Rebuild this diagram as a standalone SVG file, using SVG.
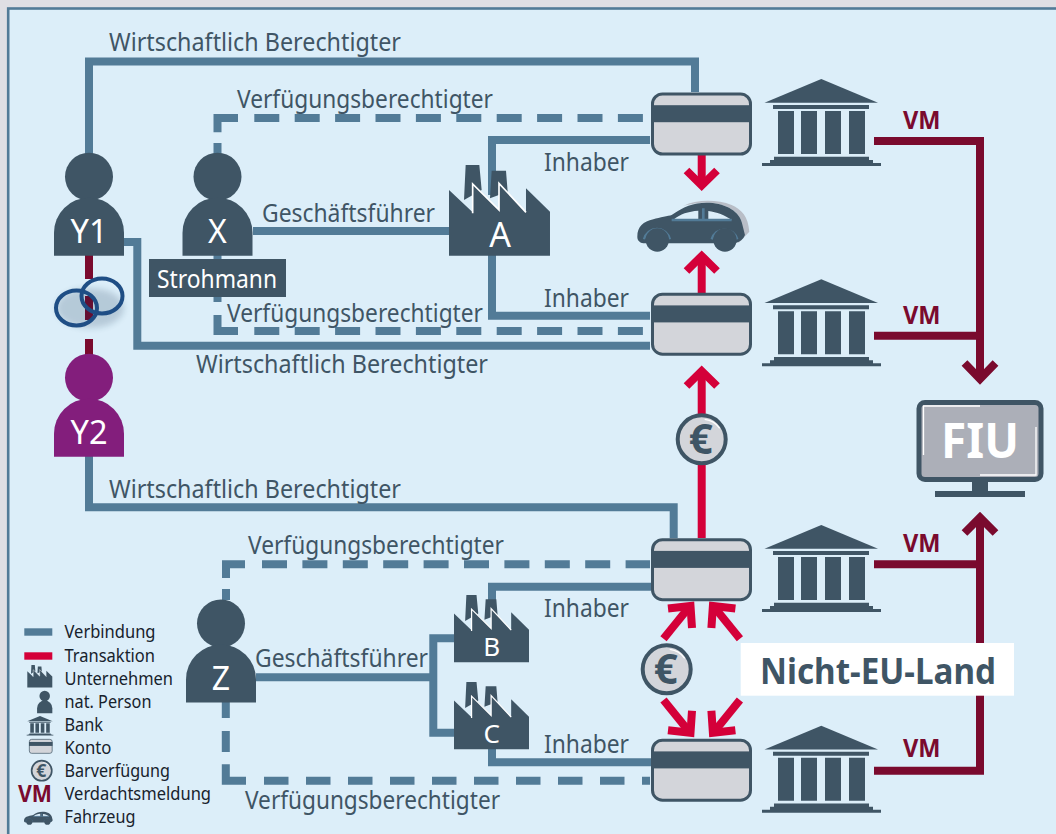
<svg xmlns="http://www.w3.org/2000/svg" xmlns:xlink="http://www.w3.org/1999/xlink" width="1056" height="834" viewBox="0 0 1056 834">
<style>
text{font-family:"Noto Sans","Liberation Sans",sans-serif}
.l{font-size:25px;fill:#3f5565}
.k{font-size:18px;fill:#17222c}
.w{fill:#fff;text-anchor:middle;font-size:32px}
.vm{font-size:25px;font-weight:700;fill:#7a0a2e}
.c{fill:none;stroke:#527b97;stroke-width:8}
.d{fill:none;stroke:#527b97;stroke-width:8;stroke-dasharray:25 15.4}
.t{fill:none;stroke:#d40039;stroke-width:8}
.v{fill:none;stroke:#7a0a2e;stroke-width:8}
.dk{fill:#3f5565}
</style>
<defs>
<filter id="blur" x="-50%" y="-50%" width="200%" height="200%"><feGaussianBlur stdDeviation="3"/></filter>
<g id="person"><circle cx="0" cy="0" r="24"/><path d="M-35 79V56A35 35 0 0 1 35 56V79Z"/></g>
<g id="factory">
<path class="dk" d="M50 0H91L98 75L45 105ZM128 17H171L176 80L123 100Z"/>
<path class="dk" d="M0 75L71 142V55L150 135V55L231 142V70L303 140V272H0Z"/>
<path d="M71 145V57L150 135V55L231 142" fill="none" stroke="#fff" stroke-width="5"/>
</g>
<g id="bank" class="dk">
<path d="M821.3 79L878 102.7H764.5Z"/>
<path d="M773 105H869V109H773Z"/>
<path d="M778 111H794V154H778ZM801 111H817V154H801ZM825 111H841V154H825ZM849 111H865V154H849Z"/>
<path d="M774 156.7H869V160H873V163H881V166H762V163H770V160H774Z"/>
</g>
<g id="card">
<rect x="1.5" y="1.5" width="98" height="60" rx="10" fill="#d3d5da" stroke="#3f5565" stroke-width="3"/>
<rect x="0" y="12.7" width="101" height="17" fill="#3f5565"/>
</g>
<g id="euro">
<circle cx="0" cy="0" r="24" fill="#d3d5da" stroke="#3f5565" stroke-width="4"/>
<path d="M3 -20A21 21 0 0 1 18 -11" fill="none" stroke="#fff" stroke-width="1.2"/>
<text x="-1" y="15" font-size="42" font-weight="700" fill="#3f5565" text-anchor="middle">€</text>
</g>
<g id="carbody">
<path class="dk" d="M622 470C622 440 640 425 670 418C690 412 715 408 725 405C760 380 790 368 830 368C880 368 925 390 935 425L945 465C940 478 930 485 915 490H640C630 488 622 482 622 470Z"/>
<path d="M732 418C750 402 775 394 805 392V418ZM835 393C860 396 885 406 905 420H835Z" fill="#dceef9"/>
<path d="M725 420H905M820 385V420" fill="none" stroke="#527b97" stroke-width="8"/>
<path d="M642 478A40 40 0 0 1 720 478M845 478A40 40 0 0 1 922 478" fill="#3f5565" stroke="#527b97" stroke-width="7"/>
<circle cx="682" cy="480" r="35" fill="#3f5565"/>
<circle cx="885" cy="480" r="35" fill="#3f5565"/>
</g>
</defs>

<rect id="page" width="1056" height="834" fill="#dfdfe4"/>
<rect id="panel" x="8.2" y="8.5" width="1100" height="900" fill="#dceef9" stroke="#527b97" stroke-width="2.6"/>

<g id="connectors">
<path class="c" d="M89 155V61.5H695V92"/>
<path class="c" d="M217.5 154V143M217.5 132.3V118H238"/>
<path class="d" d="M254.3 118H650"/>
<path class="c" d="M650 140H492V195"/>
<path class="c" d="M492 255V315.7H650"/>
<path class="c" d="M217.5 255V302M217.5 315V331H238"/>
<path class="d" d="M254.3 331H650"/>
<path class="c" d="M124 242H137.3V345.7H650"/>
<path class="c" d="M253 231H449"/>
<path class="v" d="M89 255V279M89 296V320M89 339V356"/>
<path class="c" d="M89 456V507.3H673.7V538"/>
<path class="c" d="M226 600V589M226 578V564.3H245"/>
<path class="d" d="M262 564.3H650"/>
<path class="c" d="M651 586.7H492V610"/>
<path class="c" d="M256 677.3H433.3M454 638.3H433.3V732.7H454"/>
<path class="c" d="M492 749V762.3H651"/>
<path class="c" d="M225.8 702V718M225.8 731V752M225.8 764.3V780.7H246"/>
<path class="d" d="M264 780.7H650" style="stroke-dasharray:24.5 17.5"/>
<path class="t" d="M701.7 155V185"/><path class="t" d="M686.5 170.5L701.7 185.5L717 170.5"/>
<path class="t" d="M701.7 293V256"/><path class="t" d="M686.5 271L701.7 256L717 271"/>
<path class="t" d="M701.7 538V371"/><path class="t" d="M686.5 386L701.7 371L717 386"/>
<path class="t" d="M663.5 638.7L690 606"/><path class="t" d="M668 608.5L690.5 606L692 628"/>
<path class="t" d="M739.9 638.7L713.4 606"/><path class="t" d="M735.4 608.5L712.9 606L711.4 628"/>
<path class="t" d="M663.5 700L690 732.7"/><path class="t" d="M668 730.2L690.5 732.7L692 710.7"/>
<path class="t" d="M739.9 700L713.4 732.7"/><path class="t" d="M735.4 730.2L712.9 732.7L711.4 710.7"/>
<path class="v" d="M874 141H980V379"/><path class="v" d="M874 335.7H980"/>
<path class="v" d="M964.5 363L980 379L995.5 363"/>
<path class="v" d="M874 564.3H980"/><path class="v" d="M874 770.7H980V517.5"/>
<path class="v" d="M964.5 533L980 517.5L995.5 533"/>
</g>

<g id="labels">
<text class="l" x="109" y="51" textLength="292" lengthAdjust="spacingAndGlyphs">Wirtschaftlich Berechtigter</text>
<text class="l" x="237" y="107.5" textLength="256" lengthAdjust="spacingAndGlyphs">Verfügungsberechtigter</text>
<text class="l" x="262" y="222" textLength="173" lengthAdjust="spacingAndGlyphs">Geschäftsführer</text>
<text class="l" x="544" y="170.7" textLength="85" lengthAdjust="spacingAndGlyphs">Inhaber</text>
<text class="l" x="544" y="306.7" textLength="85" lengthAdjust="spacingAndGlyphs">Inhaber</text>
<text class="l" x="227" y="322" textLength="256" lengthAdjust="spacingAndGlyphs">Verfügungsberechtigter</text>
<text class="l" x="196" y="373" textLength="292" lengthAdjust="spacingAndGlyphs">Wirtschaftlich Berechtigter</text>
<text class="l" x="109" y="497.5" textLength="292" lengthAdjust="spacingAndGlyphs">Wirtschaftlich Berechtigter</text>
<text class="l" x="248" y="553.5" textLength="256" lengthAdjust="spacingAndGlyphs">Verfügungsberechtigter</text>
<text class="l" x="544" y="616.5" textLength="85" lengthAdjust="spacingAndGlyphs">Inhaber</text>
<text class="l" x="255" y="666.5" textLength="173" lengthAdjust="spacingAndGlyphs">Geschäftsführer</text>
<text class="l" x="544" y="753" textLength="85" lengthAdjust="spacingAndGlyphs">Inhaber</text>
<text class="l" x="245" y="808.5" textLength="255" lengthAdjust="spacingAndGlyphs">Verfügungsberechtigter</text>
<text class="vm" x="903" y="129" textLength="37.5" lengthAdjust="spacingAndGlyphs">VM</text>
<text class="vm" x="903" y="324" textLength="37.5" lengthAdjust="spacingAndGlyphs">VM</text>
<text class="vm" x="903" y="551.7" textLength="37.5" lengthAdjust="spacingAndGlyphs">VM</text>
<text class="vm" x="903" y="757" textLength="37.5" lengthAdjust="spacingAndGlyphs">VM</text>
</g>

<g id="rings">
<ellipse cx="90" cy="308" rx="34" ry="20" fill="#0b2a4a" opacity=".18" filter="url(#blur)"/>
<ellipse cx="76.5" cy="308" rx="20.5" ry="17.5" fill="none" stroke="#1f4e85" stroke-width="4"/>
<ellipse cx="102" cy="296" rx="20.5" ry="17.5" fill="none" stroke="#1f4e85" stroke-width="4"/>
</g>

<g id="node-y1"><use href="#person" x="89" y="176.7" fill="#3f5565"/><text class="w" x="89" y="243.3" textLength="37" lengthAdjust="spacingAndGlyphs">Y1</text></g>
<g id="node-y2"><use href="#person" x="89" y="377.7" fill="#831e7c"/><text class="w" x="89" y="443.5" textLength="37" lengthAdjust="spacingAndGlyphs">Y2</text></g>
<g id="node-x"><use href="#person" x="217.5" y="176.7" fill="#3f5565"/><text class="w" x="217.5" y="243.3">X</text></g>
<g id="node-strohmann"><rect x="149" y="259" width="137" height="38" fill="#3f5565"/><text x="157" y="288" font-size="25" fill="#fff" textLength="120" lengthAdjust="spacingAndGlyphs">Strohmann</text></g>
<g id="node-z"><use href="#person" x="221" y="623.5" fill="#3f5565"/><text class="w" x="221" y="690">Z</text></g>

<g id="node-a"><use href="#factory" transform="translate(449 165) scale(.3333)"/><text class="w" x="500" y="246.7" style="font-size:34px">A</text></g>
<g id="node-b"><use href="#factory" transform="translate(454 595) scale(.2475)"/><text class="w" x="491.7" y="656" style="font-size:26px">B</text></g>
<g id="node-c"><use href="#factory" transform="translate(454 682) scale(.2475)"/><text class="w" x="491.7" y="742.7" style="font-size:26px">C</text></g>

<g id="card-1"><use href="#card" x="651" y="92.5"/></g>
<g id="card-2"><use href="#card" x="651" y="292.7"/></g>
<g id="card-3"><use href="#card" x="651" y="538.2"/></g>
<g id="card-4"><use href="#card" x="651" y="738.7"/></g>

<g id="bank-1"><use href="#bank"/></g>
<g id="bank-2"><use href="#bank" y="200.3"/></g>
<g id="bank-3"><use href="#bank" y="446"/></g>
<g id="bank-4"><use href="#bank" y="646.7"/></g>

<g id="car">
<path d="M760 378C800 358 860 358 905 375C935 388 955 410 958 455L925 490L935 425C925 390 880 368 830 368C800 368 780 372 760 378Z" fill="#b9bec7" transform="translate(430 80) scale(.3333)"/>
<use href="#carbody" transform="translate(430 80) scale(.3333)"/>
</g>

<g id="euro-1"><use href="#euro" x="701.7" y="439.3"/></g>
<g id="euro-2"><use href="#euro" x="666.7" y="669.3"/></g>

<g id="nicht-eu">
<rect x="740.7" y="643" width="273.3" height="52.7" fill="#fff"/>
<text x="760" y="684" font-size="35" font-weight="700" fill="#3f5565" textLength="236" lengthAdjust="spacingAndGlyphs">Nicht-EU-Land</text>
</g>

<g id="fiu">
<rect x="919" y="402.5" width="122" height="77" rx="6" fill="#acafb8" stroke="#3f5565" stroke-width="5"/>
<path d="M980 406H923.5V455M980 475H1036V427" fill="none" stroke="#fff" stroke-width="1.3"/>
<path class="dk" d="M972 481H988V491H1025V497H935V491H972Z"/>
<text x="941" y="458" font-size="49" font-weight="700" fill="#fff" textLength="78" lengthAdjust="spacingAndGlyphs">FIU</text>
</g>

<g id="legend">
<rect x="24.3" y="628.3" width="28" height="7.4" fill="#527b97"/>
<rect x="24.3" y="652.3" width="28" height="7.4" fill="#d40039"/>
<use href="#factory" transform="translate(27.3 665) scale(.0825)"/>
<use href="#person" transform="translate(44.7 696) scale(.218)" fill="#3f5565"/>
<use href="#bank" transform="translate(-144 698.3) scale(.224)"/>
<use href="#card" transform="translate(29 739) scale(.233)"/>
<use href="#euro" transform="translate(41.7 770.7) scale(.42)"/>
<text x="18" y="802" font-size="24" font-weight="700" fill="#7a0a2e" textLength="34" lengthAdjust="spacingAndGlyphs">VM</text>
<use href="#carbody" transform="translate(-31.3 779) scale(.0889)"/>
<text class="k" x="64.5" y="638.3" textLength="91" lengthAdjust="spacingAndGlyphs">Verbindung</text>
<text class="k" x="64.5" y="661.5" textLength="90.5" lengthAdjust="spacingAndGlyphs">Transaktion</text>
<text class="k" x="64.5" y="684.7" textLength="108.5" lengthAdjust="spacingAndGlyphs">Unternehmen</text>
<text class="k" x="64.5" y="708" textLength="87" lengthAdjust="spacingAndGlyphs">nat. Person</text>
<text class="k" x="64.5" y="731" textLength="38.5" lengthAdjust="spacingAndGlyphs">Bank</text>
<text class="k" x="64.5" y="754" textLength="47" lengthAdjust="spacingAndGlyphs">Konto</text>
<text class="k" x="64.5" y="777" textLength="105.5" lengthAdjust="spacingAndGlyphs">Barverfügung</text>
<text class="k" x="64.5" y="800" textLength="146.5" lengthAdjust="spacingAndGlyphs">Verdachtsmeldung</text>
<text class="k" x="64.5" y="823" textLength="71" lengthAdjust="spacingAndGlyphs">Fahrzeug</text>
</g>
</svg>
